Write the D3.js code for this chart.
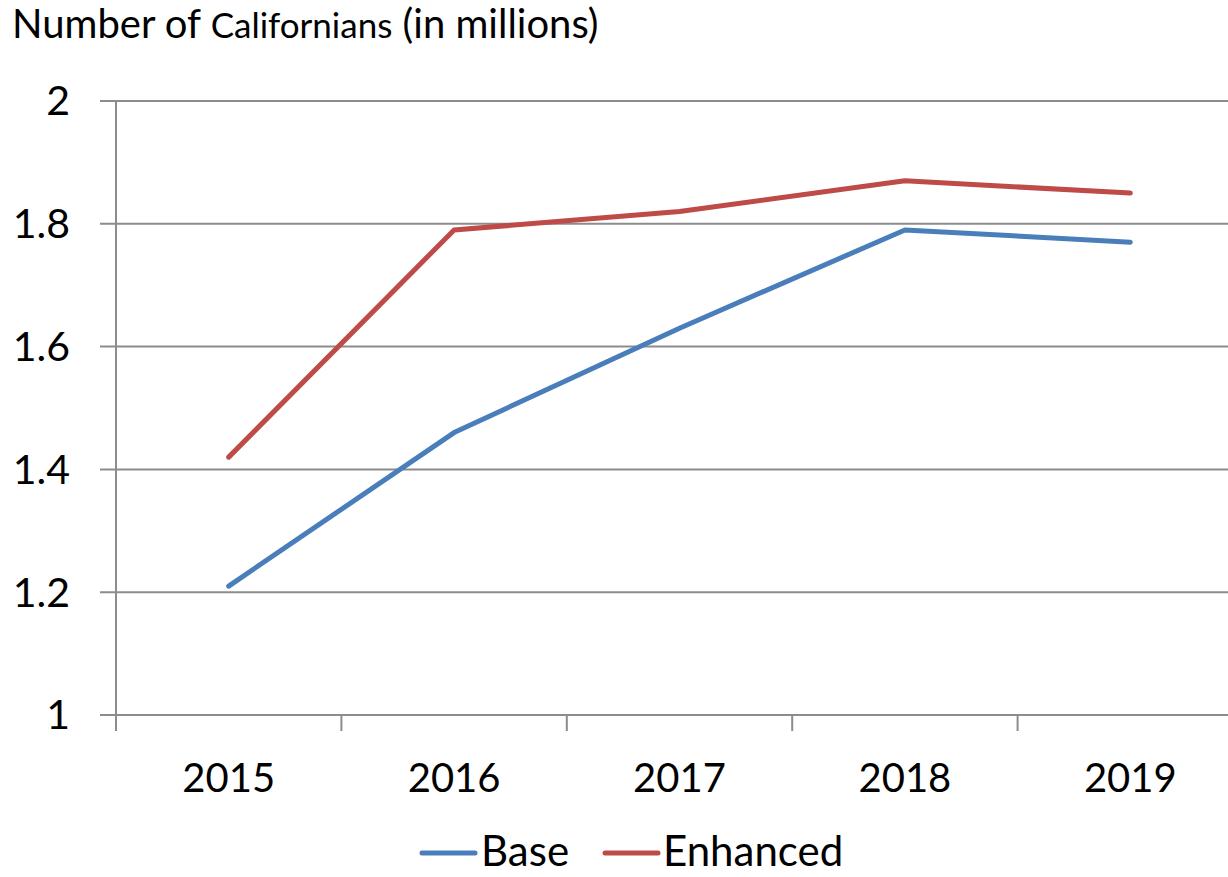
<!DOCTYPE html>
<html><head><meta charset="utf-8">
<script src="https://cdn.jsdelivr.net/npm/d3@7"></script>
<style>body{margin:0;background:#fff}svg{display:block}text{font-family:Lato,"Open Sans",sans-serif;fill:#000}</style>
</head><body><svg id="c" width="1228" height="877"></svg>
<script>
const years = ["2015","2016","2017","2018","2019"];
const baseValues = [1.21,1.46,1.63,1.79,1.77];
const enhancedValues = [1.42,1.79,1.82,1.87,1.85];
const yTicks = [1,1.2,1.4,1.6,1.8,2];
const seriesNames = ["Base","Enhanced"];
const seriesColors = ["#4A7EBB","#BE4B48"];

(function(){
const svg = d3.select("#c");
const W = 1228, H = 877;
const pL = 116, pR = 1243, pT = 101, pB = 715;
const x = d3.scaleBand().domain(years).range([pL, pR]);
const y = d3.scaleLinear().domain([1,2]).range([pB, pT]);

// title
const t = svg.append("text").attr("x",12).attr("y",38).attr("font-size",40);
t.append("tspan").text("Number of ");
t.append("tspan").attr("font-size",35).text("Californians");
t.append("tspan").text(" (in millions)");

// gridlines
svg.append("g").selectAll("line").data(yTicks).join("line")
  .attr("x1",100).attr("x2",W).attr("y1",d=>y(d)).attr("y2",d=>y(d))
  .attr("stroke","#8c8c8c").attr("stroke-width",2);
// y axis line
svg.append("line").attr("x1",pL).attr("x2",pL).attr("y1",pT).attr("y2",pB+16)
  .attr("stroke","#8c8c8c").attr("stroke-width",2);
// x ticks
svg.append("g").selectAll("line").data(years.slice(1)).join("line")
  .attr("x1",d=>x(d)).attr("x2",d=>x(d)).attr("y1",pB).attr("y2",pB+16)
  .attr("stroke","#8c8c8c").attr("stroke-width",2);

// y labels
svg.append("g").selectAll("text").data(yTicks).join("text")
  .attr("x",70).attr("y",d=>y(d)).attr("dy","0.35em").attr("text-anchor","end")
  .attr("font-size",41).text(d=>d3.format("~g")(d));
// x labels
svg.append("g").selectAll("text").data(years).join("text")
  .attr("x",d=>x(d)+x.bandwidth()/2).attr("y",792).attr("text-anchor","middle")
  .attr("font-size",40).text(d=>d);

// lines
const line = d3.line().x((d,i)=>x(years[i])+x.bandwidth()/2).y(d=>y(d));
[baseValues, enhancedValues].forEach((vals,i)=>{
  svg.append("path").datum(vals).attr("d",line).attr("fill","none")
    .attr("stroke",seriesColors[i]).attr("stroke-width",5)
    .attr("stroke-linecap","round").attr("stroke-linejoin","round");
});

// legend
const lg = [{x1:422,x2:475,tx:481},{x1:605,x2:658,tx:663}];
seriesNames.forEach((n,i)=>{
  svg.append("line").attr("x1",lg[i].x1).attr("x2",lg[i].x2).attr("y1",853).attr("y2",853)
    .attr("stroke",seriesColors[i]).attr("stroke-width",5).attr("stroke-linecap","round");
  svg.append("text").attr("x",lg[i].tx).attr("y",866).attr("font-size",42).text(n);
});
})();
</script></body></html>
